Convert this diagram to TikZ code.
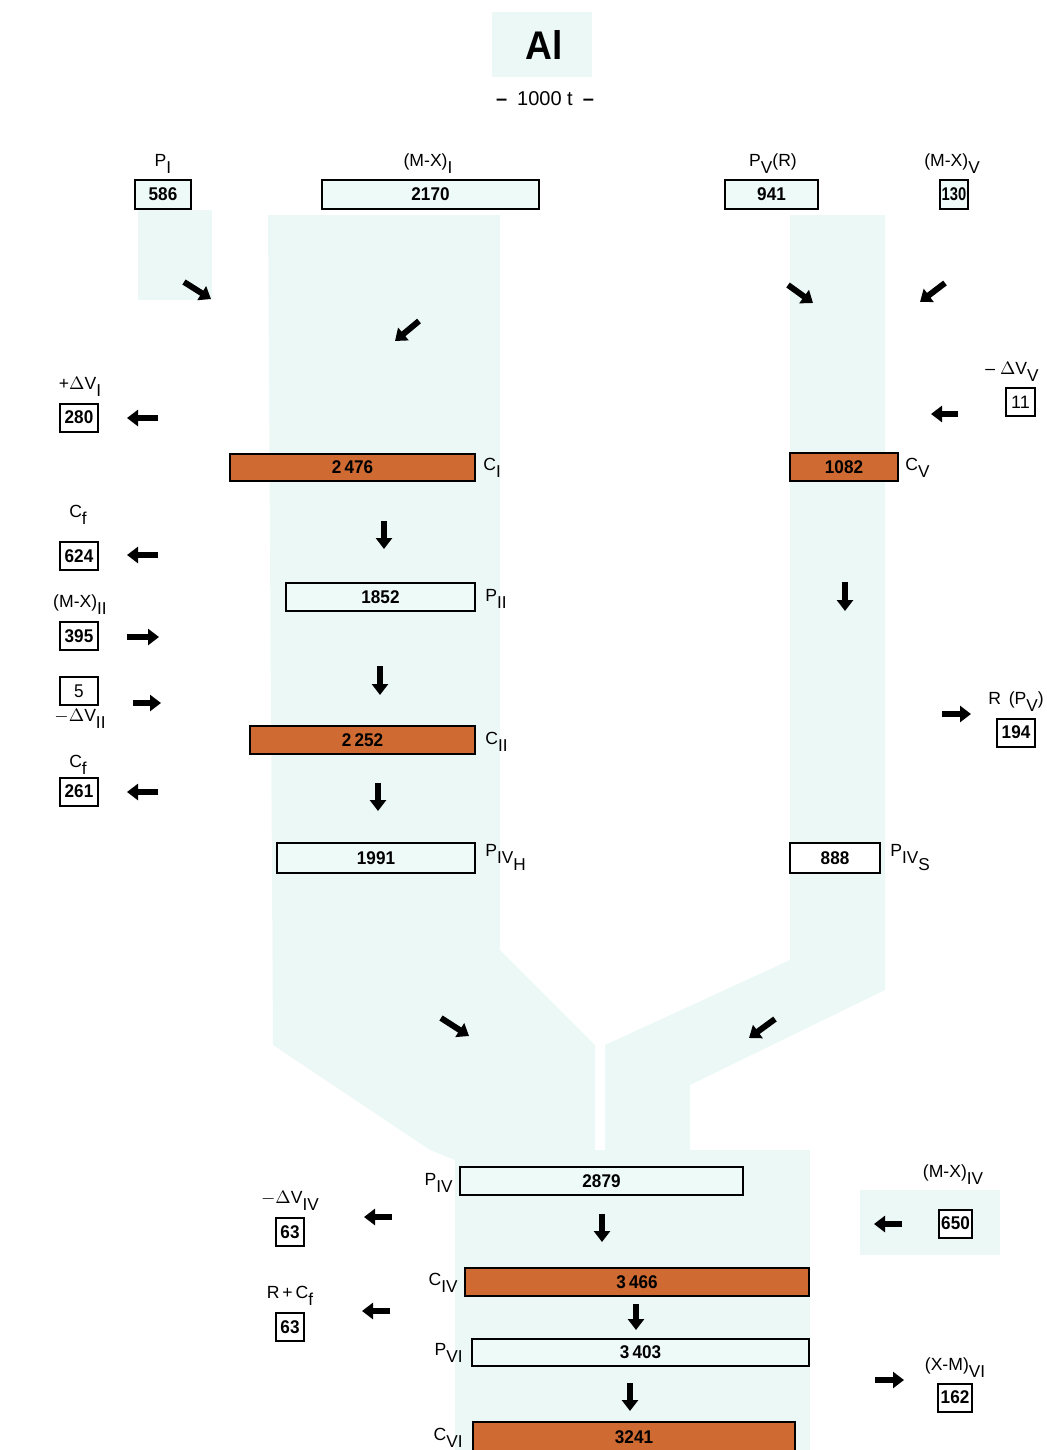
\documentclass[tikz,border=0pt]{standalone}
\usepackage{fontspec}
\setmainfont{Liberation Sans}
\newfontfamily\numfont{Liberation Sans}[FakeStretch=0.93]
\usepackage{xcolor}
\usepackage{tikz}
\usetikzlibrary{arrows.meta, positioning}

\definecolor{bandcyan}{RGB}{236,248,245}
\definecolor{boxcyan}{RGB}{238,250,248}
\definecolor{castorange}{RGB}{206,106,50}

\newcommand{\dn}[1]{\raisebox{-0.8ex}{\fontsize{8.6}{9}\selectfont #1}}

\tikzset{
  valbox/.style={draw, line width=1pt, fill=boxcyan, inner sep=0pt, minimum height=14pt, font=\fontsize{9.2}{10}\numfont\bfseries},
  castbox/.style={valbox, fill=castorange},
  smallbox/.style={valbox, fill=white, minimum width=19pt},
  lbl/.style={inner sep=0pt, font=\fontsize{8.8}{10}\selectfont},
  blockarrow/.style={line width=3pt, -{Triangle[length=5.5pt, width=8pt]}}
}

\begin{document}
\begin{tikzpicture}[x=0.5pt, y=-0.5pt]
\useasboundingbox (0,0) rectangle (1046,1450);
% Pale flow bands
\fill[bandcyan] (268,215) -- (500,215) -- (500,950) -- (595,1045) -- (595,1160) -- (455,1160) -- (430,1150) -- (273,1045) -- cycle;
\fill[bandcyan] (790,215) -- (885,215) -- (885,990) -- (690,1085) -- (690,1160) -- (605,1160) -- (605,1045) -- (790,960) -- cycle;
\fill[bandcyan] (455,1150) rectangle (810,1450);
\fill[bandcyan] (138,210) rectangle (212,300);
\fill[bandcyan] (860,1190) rectangle (1000,1255);
\fill[bandcyan] (492,12) rectangle (592,77);
% Title
\node[lbl, font=\fontsize{20}{22}\numfont\bfseries] (title) at (544,45) {Al};
\node[lbl, font=\fontsize{10}{11}\selectfont] (unit) at (545,99) {\textbf{--}\enspace 1000 t\enspace\textbf{--}};
% Top inputs
\node[valbox, minimum width=28pt, minimum height=14.5pt] (pI) at (163,194.5) {586};
\node[valbox, minimum width=108.5pt, minimum height=14.5pt] (mxI) at (430.5,194.5) {2170};
\node[valbox, minimum width=46.5pt, minimum height=14.5pt] (pV) at (771.5,194.5) {941};
\node[valbox, minimum width=14pt, minimum height=14.5pt, font=\fontsize{9.2}{10}\numfont\bfseries\addfontfeatures{FakeStretch=0.8}] (mxV) at (954,194.5) {130};
\node[lbl, anchor=base] (pIlbl) at (163,166) {P\dn{I}};
\node[lbl, anchor=base] (mxIlbl) at (428,166) {(M-X)\dn{I}};
\node[lbl, anchor=base] (pVlbl) at (773,166) {P\dn{V}(R)};
\node[lbl, anchor=base] (mxVlbl) at (952,166) {(M-X)\dn{V}};
\draw[blockarrow] (184,282) -- (211,299);
\draw[blockarrow] (419,321) -- (395,341);
\draw[blockarrow] (788,285) -- (813,303);
\draw[blockarrow] (945,283) -- (920,302);
% Left chain
\node[smallbox] (dvI) at (79,417.5) {280};
\node[lbl, anchor=base] (dvIlbl) at (80,389) {+$\Delta$V\dn{I}};
\draw[blockarrow] (158,418) -- (127,418);
\node[castbox, minimum width=122.5pt, minimum height=13.5pt] (cI) at (352.5,467.5) {2\,476};
\node[lbl, anchor=base west] (cIlbl) at (483,470) {C\dn{I}};
\node[smallbox] (cfI) at (79,556) {624};
\node[lbl, anchor=base] (cfIlbl) at (78,517) {C\dn{f}};
\draw[blockarrow] (158,555) -- (127,555);
\draw[blockarrow] (384,521) -- (384,549);
\node[valbox, minimum width=94.5pt] (pII) at (380.5,597) {1852};
\node[lbl, anchor=base west] (pIIlbl) at (485,601) {P\dn{II}};
\node[smallbox] (mxII) at (79,636) {395};
\node[lbl, anchor=base] (mxIIlbl) at (80,607) {(M-X)\dn{II}};
\draw[blockarrow] (127,637) -- (159,637);
\draw[blockarrow] (380,666) -- (380,695);
\node[smallbox] (dvII) at (79,691) {\mdseries 5};
\node[lbl, anchor=base] (dvIIlbl) at (80,721) {$-\Delta$V\dn{II}};
\draw[blockarrow] (133,703) -- (161,703);
\node[castbox, minimum width=112.5pt] (cII) at (362.5,740) {2\,252};
\node[lbl, anchor=base west] (cIIlbl) at (485,744) {C\dn{II}};
\node[smallbox] (cfII) at (79,791.5) {261};
\node[lbl, anchor=base] (cfIIlbl) at (78,767) {C\dn{f}};
\draw[blockarrow] (158,792) -- (127,792);
\draw[blockarrow] (378,783) -- (378,811);
\node[valbox, minimum width=99pt, minimum height=15pt] (pIVH) at (376,858) {1991};
\node[lbl, anchor=base west] (pIVHlbl) at (485,856) {P\dn{IV\dn{H}}};
% Right chain
\node[smallbox, minimum width=14.5pt, font=\fontsize{9}{10}\selectfont] (dvV) at (1020.5,402) {11};
\node[lbl, anchor=base] (dvVlbl) at (1012,374) {-- $\Delta$V\dn{V}};
\draw[blockarrow] (958,414) -- (931,414);
\node[castbox, minimum width=54pt] (cV) at (844,467) {1082};
\node[lbl, anchor=base west] (cVlbl) at (905,470) {C\dn{V}};
\draw[blockarrow] (845,582) -- (845,611);
\node[smallbox] (rpV) at (1016,732.5) {194};
\node[lbl, anchor=base] (rpVlbl) at (1016,704) {R\, (P\dn{V})};
\draw[blockarrow] (942,714) -- (971,714);
\node[valbox, minimum width=45pt, minimum height=15pt, fill=white] (pIVS) at (835,858) {888};
\node[lbl, anchor=base west] (pIVSlbl) at (890,856) {P\dn{IV\dn{S}}};
% Merge
\draw[blockarrow] (441,1018) -- (469,1036);
\draw[blockarrow] (775,1019) -- (749,1038);
% Lower chain
\node[valbox, minimum width=141.5pt] (pIV) at (601.5,1181) {2879};
\node[lbl, anchor=base east] (pIVlbl) at (453,1185) {P\dn{IV}};
\node[smallbox, minimum width=14pt] (dvIV) at (290,1232) {63};
\node[lbl, anchor=base] (dvIVlbl) at (290,1203) {$-\Delta$V\dn{IV}};
\draw[blockarrow] (392,1217) -- (364,1217);
\node[smallbox, minimum width=16.5pt] (mxIV) at (955.5,1223.5) {650};
\node[lbl, anchor=base] (mxIVlbl) at (953,1177) {(M-X)\dn{IV}};
\draw[blockarrow] (902,1224) -- (874,1224);
\draw[blockarrow] (602,1214) -- (602,1242);
\node[castbox, minimum width=172pt] (cIV) at (637,1282) {3\,466};
\node[lbl, anchor=base east] (cIVlbl) at (458,1285) {C\dn{IV}};
\node[smallbox, minimum width=14pt] (rcf) at (290,1327) {63};
\node[lbl, anchor=base] (rcflbl) at (290,1298) {R\,+\,C\dn{f}};
\draw[blockarrow] (390,1311) -- (362,1311);
\draw[blockarrow] (636,1304) -- (636,1330);
\node[valbox, minimum width=168.5pt, minimum height=13.5pt] (pVI) at (640.5,1352.5) {3\,403};
\node[lbl, anchor=base east] (pVIlbl) at (463,1355) {P\dn{VI}};
\draw[blockarrow] (630,1383) -- (630,1411);
\node[smallbox, minimum width=17pt] (xmVI) at (955,1397.5) {162};
\node[lbl, anchor=base] (xmVIlbl) at (955,1370) {(X-M)\dn{VI}};
\draw[blockarrow] (875,1380) -- (904,1380);
\node[castbox, minimum width=161pt, minimum height=15pt] (cVI) at (634,1437) {3241};
\node[lbl, anchor=base east] (cVIlbl) at (463,1440) {C\dn{VI}};
\end{tikzpicture}
\end{document}
